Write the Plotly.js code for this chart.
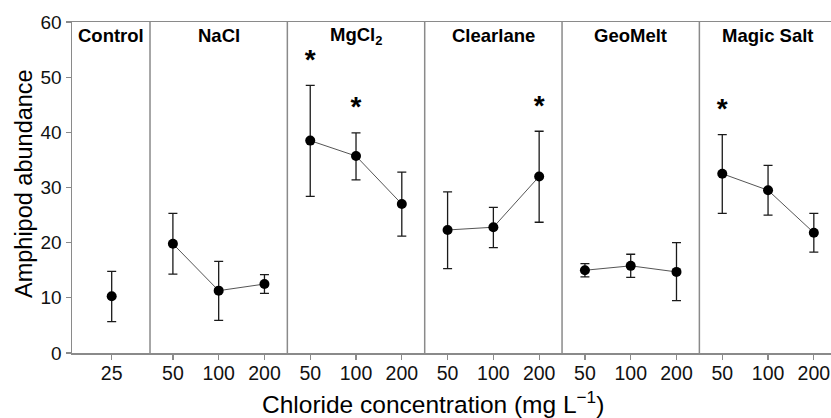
<!DOCTYPE html>
<html>
<head>
<meta charset="utf-8">
<script src="https://cdn.plot.ly/plotly-3.0.1.min.js"></script>
<style>html,body{margin:0;padding:0;background:#fff;}#chart{width:831px;height:418px;}</style>
</head>
<body>
<div id="chart"></div>
<script>
// ---- data ----
const groups = ["Control", "NaCl", "MgCl<sub>2</sub>", "Clearlane", "GeoMelt", "Magic Salt"];
const concLabels = [["25"], ["50", "100", "200"], ["50", "100", "200"], ["50", "100", "200"], ["50", "100", "200"], ["50", "100", "200"]];
const means    = [[10.3], [19.8, 11.3, 12.5], [38.5, 35.7, 27.0], [22.3, 22.8, 32.0], [15.0, 15.8, 14.7], [32.5, 29.5, 21.8]];
const errPlus  = [[4.5],  [5.5, 5.3, 1.7],    [10.0, 4.2, 5.8],   [6.9, 3.6, 8.2],    [1.2, 2.1, 5.3],    [7.1, 4.5, 3.5]];
const errMinus = [[4.6],  [5.5, 5.4, 1.7],    [10.1, 4.3, 5.8],   [7.0, 3.7, 8.3],    [1.2, 2.1, 5.2],    [7.2, 4.5, 3.5]];
const significant = [[false], [false, false, false], [true, true, false], [false, false, true], [false, false, false], [true, false, false]];
const xTitle = "Chloride concentration (mg L<sup>\u22121</sup>)";
const yTitle = "Amphipod abundance";

// ---- layout helpers ----
const FONT = "Liberation Sans, Arial, Helvetica, sans-serif";
const frameColor = "#8a8a8a";
function xPos(g, i) { return g === 0 ? 0 : 1.337 + 3 * (g - 1) + i; }
function sepPos(g) { return 0.837 + 3 * (g - 1); }   // separator left of group g (g>=1)
const xLeft = -0.867, xRight = 15.712;

const traces = [];
const tickvals = [], ticktext = [];
const annotations = [];
const shapes = [];
const starX = [], starY = [];

groups.forEach((name, g) => {
  const xs = means[g].map((_, i) => xPos(g, i));
  xs.forEach((x, i) => { tickvals.push(x); ticktext.push(concLabels[g][i]); });
  traces.push({
    type: "scatter", mode: "lines+markers",
    x: xs, y: means[g],
    line: { color: "#555555", width: 1 },
    marker: { color: "#000000", size: 10 },
    error_y: { type: "data", symmetric: false, array: errPlus[g], arrayminus: errMinus[g],
               color: "#1a1a1a", thickness: 1.3, width: 4.5 },
    hoverinfo: "skip", showlegend: false
  });
  // panel title
  const left = g === 0 ? xLeft : sepPos(g);
  const right = g === 0 ? sepPos(1) : sepPos(g) + 3;
  annotations.push({
    x: (left + right) / 2, xref: "x", y: 0.958, yref: "paper",
    text: "<b>" + name + "</b>", showarrow: false, xanchor: "center", yanchor: "middle",
    font: { family: FONT, size: 18.5, color: "#000" }
  });
  // separators
  if (g >= 1) {
    shapes.push({ type: "line", xref: "x", yref: "paper", x0: sepPos(g), x1: sepPos(g), y0: 0, y1: 1,
                  line: { color: frameColor, width: 1.5 } });
  }
  // significance asterisks positions
  means[g].forEach((m, i) => {
    if (significant[g][i]) { starX.push(xs[i]); starY.push(m + errPlus[g][i] + 4.3); }
  });
});

traces.push({
  type: "scatter", mode: "text", x: starX, y: starY,
  text: starX.map(() => "*"), textposition: "middle center",
  textfont: { family: FONT, size: 28, color: "#000", weight: "bold" },
  hoverinfo: "skip", showlegend: false, cliponaxis: false
});

// axis titles as positioned annotations
annotations.push({
  x: (433 - 72) / 759, xref: "paper", y: (353 - 402) / 331, yref: "paper",
  text: xTitle, showarrow: false, xanchor: "center", yanchor: "middle",
  font: { family: FONT, size: 24.5, color: "#000" }
});
annotations.push({
  x: (24 - 72) / 759, xref: "paper", y: (353 - 184) / 331, yref: "paper",
  text: yTitle, showarrow: false, xanchor: "center", yanchor: "middle", textangle: -90,
  font: { family: FONT, size: 23.5, color: "#000" }
});

const layout = {
  width: 831, height: 418,
  margin: { l: 72, r: 0, t: 22, b: 65, pad: 0 },
  paper_bgcolor: "#fff", plot_bgcolor: "#fff",
  showlegend: false,
  xaxis: {
    range: [xLeft, xRight], tickmode: "array", tickvals: tickvals, ticktext: ticktext,
    ticks: "outside", ticklen: 5, tickwidth: 1.2, tickcolor: frameColor,
    ticklabelstandoff: -3,
    showline: true, linecolor: frameColor, linewidth: 1.5, mirror: true,
    showgrid: false, zeroline: false, fixedrange: true,
    tickfont: { family: FONT, size: 19.5, color: "#111" }
  },
  yaxis: {
    range: [0, 60], tickmode: "array", tickvals: [0, 10, 20, 30, 40, 50, 60],
    ticks: "outside", ticklen: 5, tickwidth: 1.2, tickcolor: frameColor,
    showline: true, linecolor: frameColor, linewidth: 1.5,
    showgrid: false, zeroline: false, fixedrange: true,
    tickfont: { family: FONT, size: 19, color: "#111" }
  },
  shapes: shapes,
  annotations: annotations
};

Plotly.newPlot("chart", traces, layout, { displayModeBar: false, staticPlot: true });
</script>
</body>
</html>
